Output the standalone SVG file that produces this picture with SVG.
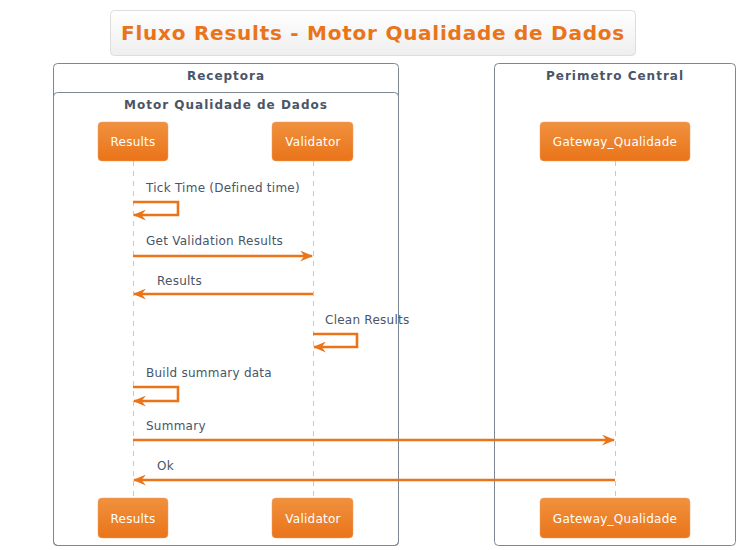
<svg xmlns="http://www.w3.org/2000/svg" width="740" height="550" viewBox="0 0 740 550">
<defs>
<linearGradient id="pg" x1="0" y1="0" x2="0" y2="1"><stop offset="0" stop-color="#F0913F"/><stop offset="1" stop-color="#EA7419"/></linearGradient>
<linearGradient id="tg" x1="0" y1="0" x2="0" y2="1"><stop offset="0" stop-color="#FFFFFF"/><stop offset="1" stop-color="#EEEEEE"/></linearGradient>
<marker id="ah" viewBox="0 0 12 10" refX="11" refY="5" markerWidth="13" markerHeight="11" markerUnits="userSpaceOnUse" orient="auto">
<path d="M0,0 L12,5 L0,10 L4,5 Z" fill="#EA7419"/>
</marker>
<style>
.grp{fill:none;stroke:#7D8794;stroke-width:1}
.gt{font-family:"DejaVu Sans",sans-serif;font-size:12px;font-weight:bold;fill:#4A5568;text-anchor:middle;letter-spacing:1px}
.pb{fill:url(#pg);stroke:#E8A06A;stroke-width:0.5}
.pt{font-family:"DejaVu Sans",sans-serif;font-size:12px;fill:#FFFFFF;text-anchor:middle;letter-spacing:0.25px}
.ll{stroke:#C8C8C8;stroke-width:1;stroke-dasharray:5,5}
.msg{fill:none;stroke:#EA7419;stroke-width:2.6;marker-end:url(#ah)}
.ml{font-family:"DejaVu Sans",sans-serif;font-size:12px;fill:#4A5568;letter-spacing:0.25px}
</style>
</defs>
<rect width="740" height="550" fill="#FFFFFF"/>
<g id="title">
<rect x="110.5" y="10.5" width="525" height="45" rx="4" fill="url(#tg)" stroke="#DDDDDD"/>
<text x="373" y="40" font-family="DejaVu Sans,sans-serif" font-size="20" font-weight="bold" fill="#EA7419" text-anchor="middle" letter-spacing="0.75">Fluxo Results - Motor Qualidade de Dados</text>
</g>
<g id="receptora">
<rect class="grp" x="53.5" y="63.5" width="345" height="482" rx="4"/>
<text class="gt" x="226" y="80">Receptora</text>
</g>
<g id="motor">
<rect class="grp" x="53.5" y="92.5" width="345" height="453" rx="4"/>
<text class="gt" x="226" y="109">Motor Qualidade de Dados</text>
</g>
<g id="perimetro">
<rect class="grp" x="494.5" y="63.5" width="241" height="482" rx="4"/>
<text class="gt" x="615" y="80">Perimetro Central</text>
</g>
<g id="lifelines">
<line class="ll" x1="133.5" y1="161" x2="133.5" y2="498"/>
<line class="ll" x1="313.5" y1="161" x2="313.5" y2="498"/>
<line class="ll" x1="615.5" y1="161" x2="615.5" y2="498"/>
</g>
<g id="results">
<rect class="pb" x="98" y="122" width="70" height="39" rx="4"/>
<text class="pt" x="133" y="146">Results</text>
<rect class="pb" x="98" y="498" width="70" height="40" rx="4"/>
<text class="pt" x="133" y="523">Results</text>
</g>
<g id="validator">
<rect class="pb" x="272" y="122" width="81" height="39" rx="4"/>
<text class="pt" x="313" y="146">Validator</text>
<rect class="pb" x="272" y="498" width="81" height="40" rx="4"/>
<text class="pt" x="313" y="523">Validator</text>
</g>
<g id="gateway">
<rect class="pb" x="540" y="122" width="150" height="39" rx="4"/>
<text class="pt" x="615" y="146">Gateway_Qualidade</text>
<rect class="pb" x="540" y="498" width="150" height="40" rx="4"/>
<text class="pt" x="615" y="523">Gateway_Qualidade</text>
</g>
<g id="connectors">
<path class="msg" d="M133,202 H178 V215 H134"/>
<text class="ml" x="146" y="192">Tick Time (Defined time)</text>
<path class="msg" d="M133,256 H312"/>
<text class="ml" x="146" y="245">Get Validation Results</text>
<path class="msg" d="M313,294 H134"/>
<text class="ml" x="157" y="285">Results</text>
<path class="msg" d="M313,334 H357 V347 H314"/>
<text class="ml" x="325" y="324">Clean Results</text>
<path class="msg" d="M133,387 H178 V401 H134"/>
<text class="ml" x="146" y="377">Build summary data</text>
<path class="msg" d="M133,440 H614"/>
<text class="ml" x="146" y="430">Summary</text>
<path class="msg" d="M615,480 H134"/>
<text class="ml" x="157" y="470">Ok</text>
</g>
</svg>
